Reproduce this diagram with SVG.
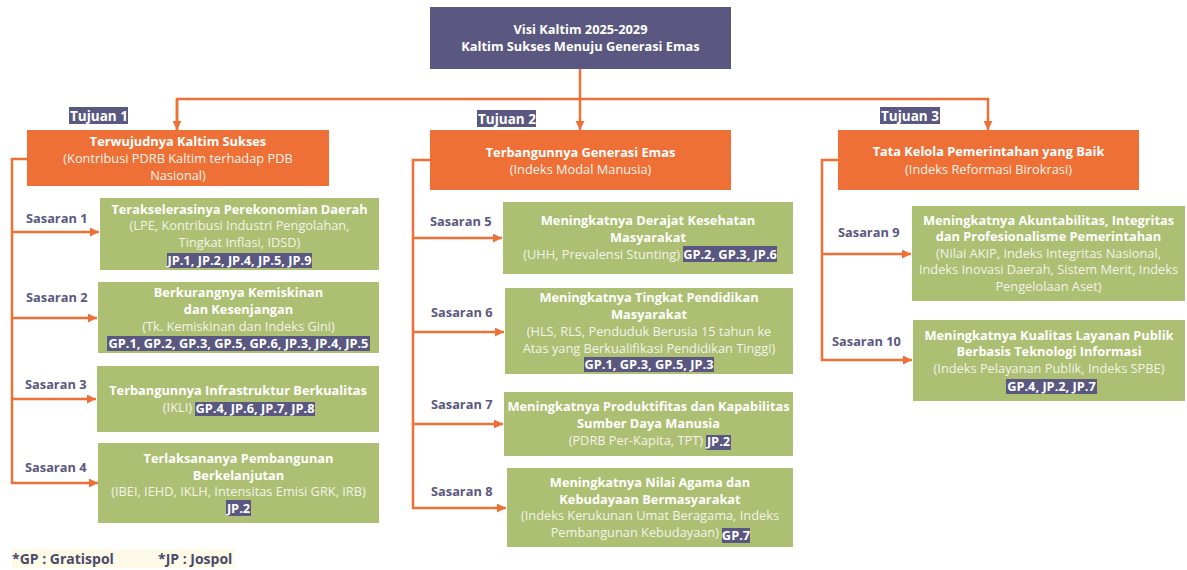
<svg xmlns="http://www.w3.org/2000/svg" width="1187" height="570" viewBox="0 0 1187 570">
<defs>
<marker id="arr" markerUnits="userSpaceOnUse" markerWidth="9" markerHeight="9" refX="9" refY="4.5" orient="auto"><path d="M0,0 L9,4.5 L0,9 z" fill="#ef7036"/></marker>
<style>
text{font-family:"Open Sans","Liberation Sans",sans-serif;font-size:12.8px;text-anchor:middle}
.b{font-weight:700;fill:#fff}
.n{fill:#f3f3ea}
.g{fill:#adbf72}
.o{fill:#ef7036}
.p{fill:#5a5880}
.lbl{font-weight:700;fill:#5a5880;font-size:12.8px;text-anchor:start}
.tj{font-weight:700;fill:#fff;font-size:13.5px;text-anchor:start}
.hl{font-weight:700;fill:#fff;font-size:12.8px}
.st{text-anchor:start}
.en{text-anchor:end}
.con{fill:none;stroke:#ef7036;stroke-width:2.5}
</style>
</defs>
<rect width="1187" height="570" fill="#fff"/>
<g id="connectors">
<path class="con" d="M580,69 V130" marker-end="url(#arr)"/>
<path class="con" d="M177,130 V99 H988 V130" marker-end="url(#arr)"/>
<path class="con" d="M177,99 V130" marker-end="url(#arr)"/>
<path class="con" d="M27,159 H12 V483 H98" marker-end="url(#arr)"/>
<path class="con" d="M12,232 H99" marker-end="url(#arr)"/>
<path class="con" d="M12,318 H97" marker-end="url(#arr)"/>
<path class="con" d="M12,399 H96" marker-end="url(#arr)"/>
<path class="con" d="M430,160 H413 V508 H506" marker-end="url(#arr)"/>
<path class="con" d="M413,238 H502" marker-end="url(#arr)"/>
<path class="con" d="M413,332 H504" marker-end="url(#arr)"/>
<path class="con" d="M413,424 H503" marker-end="url(#arr)"/>
<path class="con" d="M838,160 H822 V360 H912" marker-end="url(#arr)"/>
<path class="con" d="M822,254 H911" marker-end="url(#arr)"/>
</g>
<g id="visi">
<rect x="430" y="7" width="301" height="62" class="p"/>
<text x="580.5" y="34" class="b">Visi Kaltim 2025-2029</text>
<text x="580.5" y="51" class="b">Kaltim Sukses Menuju Generasi Emas</text>
</g>
<g id="tujuan1">
<rect x="69" y="107" width="59" height="17" class="p"/>
<text x="70" y="121" class="tj">Tujuan 1</text>
<rect x="27" y="130" width="302" height="56" class="o"/>
<text x="178" y="146" class="b">Terwujudnya Kaltim Sukses</text>
<text x="178" y="163" class="n">(Kontribusi PDRB Kaltim terhadap PDB</text>
<text x="178" y="180" class="n">Nasional)</text>
</g>
<g id="tujuan2">
<rect x="477" y="110" width="59" height="17" class="p"/>
<text x="478" y="124" class="tj">Tujuan 2</text>
<rect x="430" y="130" width="301" height="60" class="o"/>
<text x="580.5" y="157" class="b">Terbangunnya Generasi Emas</text>
<text x="580.5" y="174" class="n">(Indeks Modal Manusia)</text>
</g>
<g id="tujuan3">
<rect x="880" y="107" width="60" height="17" class="p"/>
<text x="881" y="121" class="tj">Tujuan 3</text>
<rect x="838" y="130" width="301" height="60" class="o"/>
<text x="988.5" y="156" class="b">Tata Kelola Pemerintahan yang Baik</text>
<text x="988.5" y="174" class="n">(Indeks Reformasi Birokrasi)</text>
</g>
<g id="sasaran1">
<text x="26" y="223" class="lbl">Sasaran 1</text>
<rect x="100" y="198" width="279" height="72" class="g"/>
<text x="239.5" y="214" class="b">Terakselerasinya Perekonomian Daerah</text>
<text x="239.5" y="230" class="n">(LPE, Kontribusi Industri Pengolahan,</text>
<text x="239.5" y="247" class="n">Tingkat Inflasi, IDSD)</text>
<rect x="167" y="253" width="145" height="15" class="p"/>
<text x="239.5" y="265" class="hl">JP.1, JP.2, JP.4, JP.5, JP.9</text>
</g>
<g id="sasaran2">
<text x="26" y="302" class="lbl">Sasaran 2</text>
<rect x="98" y="282" width="281" height="71" class="g"/>
<text x="238.5" y="297" class="b">Berkurangnya Kemiskinan</text>
<text x="238.5" y="314" class="b">dan Kesenjangan</text>
<text x="238.5" y="331" class="n">(Tk. Kemiskinan dan Indeks Gini)</text>
<rect x="107" y="336" width="263" height="15" class="p"/>
<text x="238.5" y="348" class="hl">GP.1, GP.2, GP.3, GP.5, GP.6, JP.3, JP.4, JP.5</text>
</g>
<g id="sasaran3">
<text x="25" y="389" class="lbl">Sasaran 3</text>
<rect x="97" y="366" width="282" height="66" class="g"/>
<text x="238" y="395" class="b">Terbangunnya Infrastruktur Berkualitas</text>
<text x="192" y="412" class="n en">(IKLI)</text>
<rect x="195" y="402" width="120" height="14" class="p"/>
<text x="255" y="413" class="hl">GP.4, JP.6, JP.7, JP.8</text>
</g>
<g id="sasaran4">
<text x="25" y="472" class="lbl">Sasaran 4</text>
<rect x="98" y="443" width="281" height="80" class="g"/>
<text x="238.5" y="463" class="b">Terlaksananya Pembangunan</text>
<text x="238.5" y="480" class="b">Berkelanjutan</text>
<text x="238.5" y="496" class="n">(IBEI, IEHD, IKLH, Intensitas Emisi GRK, IRB)</text>
<rect x="226" y="500" width="25" height="16" class="p"/>
<text x="238.5" y="513" class="hl">JP.2</text>
</g>
<g id="sasaran5">
<text x="430" y="226" class="lbl">Sasaran 5</text>
<rect x="503" y="202" width="290" height="72" class="g"/>
<text x="648" y="225" class="b">Meningkatnya Derajat Kesehatan</text>
<text x="648" y="242" class="b">Masyarakat</text>
<text x="680" y="259" class="n en">(UHH, Prevalensi Stunting)</text>
<rect x="683" y="246" width="94" height="16" class="p"/>
<text x="730" y="259" class="hl">GP.2, GP.3, JP.6</text>
</g>
<g id="sasaran6">
<text x="431" y="317" class="lbl">Sasaran 6</text>
<rect x="505" y="288" width="288" height="86" class="g"/>
<text x="649" y="302" class="b">Meningkatnya Tingkat Pendidikan</text>
<text x="649" y="319" class="b">Masyarakat</text>
<text x="649" y="336" class="n">(HLS, RLS, Penduduk Berusia 15 tahun ke</text>
<text x="649" y="353" class="n">Atas yang Berkualifikasi Pendidikan Tinggi)</text>
<rect x="584" y="357" width="130" height="15" class="p"/>
<text x="649" y="369" class="hl">GP.1, GP.3, GP.5, JP.3</text>
</g>
<g id="sasaran7">
<text x="431" y="409" class="lbl">Sasaran 7</text>
<rect x="504" y="392" width="289" height="64" class="g"/>
<text x="648.5" y="411" class="b">Meningkatnya Produktifitas dan Kapabilitas</text>
<text x="648.5" y="428" class="b">Sumber Daya Manusia</text>
<text x="703" y="445" class="n en">(PDRB Per-Kapita, TPT)</text>
<rect x="706" y="435" width="25" height="15" class="p"/>
<text x="718.5" y="446" class="hl">JP.2</text>
</g>
<g id="sasaran8">
<text x="431" y="496" class="lbl">Sasaran 8</text>
<rect x="507" y="468" width="286" height="79" class="g"/>
<text x="650" y="487" class="b">Meningkatnya Nilai Agama dan</text>
<text x="650" y="504" class="b">Kebudayaan Bermasyarakat</text>
<text x="650" y="520" class="n">(Indeks Kerukunan Umat Beragama, Indeks</text>
<text x="719" y="537" class="n en">Pembangunan Kebudayaan)</text>
<rect x="722" y="528" width="28" height="15" class="p"/>
<text x="736" y="540" class="hl">GP.7</text>
</g>
<g id="sasaran9">
<text x="838" y="237" class="lbl">Sasaran 9</text>
<rect x="912" y="206" width="273" height="95" class="g"/>
<text x="1048.5" y="225" class="b">Meningkatnya Akuntabilitas, Integritas</text>
<text x="1048.5" y="241" class="b">dan Profesionalisme Pemerintahan</text>
<text x="1048.5" y="258" class="n">(Nilai AKIP, Indeks Integritas Nasional,</text>
<text x="1048.5" y="274" class="n">Indeks Inovasi Daerah, Sistem Merit, Indeks</text>
<text x="1048.5" y="291" class="n">Pengelolaan Aset)</text>
</g>
<g id="sasaran10">
<text x="832" y="346" class="lbl">Sasaran 10</text>
<rect x="913" y="320" width="272" height="81" class="g"/>
<text x="1049" y="340" class="b">Meningkatnya Kualitas Layanan Publik</text>
<text x="1049" y="356" class="b">Berbasis Teknologi Informasi</text>
<text x="1049" y="373" class="n">(Indeks Pelayanan Publik, Indeks SPBE)</text>
<rect x="1006" y="379" width="91" height="15" class="p"/>
<text x="1051.5" y="391" class="hl">GP.4, JP.2, JP.7</text>
</g>
<g id="legend">
<rect x="12" y="549" width="223" height="19" fill="#fdfbe8"/>
<text x="12" y="564" class="st" style="font-weight:700;fill:#4b4a6b;font-size:14px">*GP : Gratispol</text>
<text x="158" y="564" class="st" style="font-weight:700;fill:#4b4a6b;font-size:14px">*JP : Jospol</text>
</g>
</svg>
